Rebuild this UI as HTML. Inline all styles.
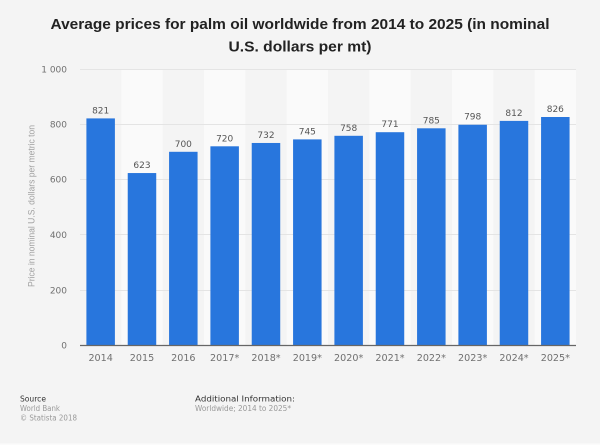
<!DOCTYPE html>
<html>
<head>
<meta charset="utf-8">
<style>
html,body{margin:0;padding:0;background:#f4f4f4;}
svg{display:block;font-family:"Liberation Sans","DejaVu Sans",sans-serif;}
.dv{font-family:"DejaVu Sans","Liberation Sans",sans-serif;}
</style>
</head>
<body>
<svg width="600" height="445" viewBox="0 0 600 445" xmlns="http://www.w3.org/2000/svg">
<rect x="0" y="0" width="600" height="445" fill="#f4f4f4"/>
<rect x="0" y="443.5" width="600" height="1.5" fill="#fbfbfb"/>
<!-- Title -->
<text x="300" y="29" text-anchor="middle" font-size="15" font-weight="bold" fill="#222" textLength="499" lengthAdjust="spacingAndGlyphs">Average prices for palm oil worldwide from 2014 to 2025 (in nominal</text>
<text x="300" y="51.5" text-anchor="middle" font-size="15" font-weight="bold" fill="#222" textLength="143" lengthAdjust="spacingAndGlyphs">U.S. dollars per mt)</text>
<!-- alternating bands -->
<g fill="#fafafa">
<rect x="121.33" y="69" width="41.33" height="276"/>
<rect x="204.00" y="69" width="41.33" height="276"/>
<rect x="286.67" y="69" width="41.33" height="276"/>
<rect x="369.33" y="69" width="41.33" height="276"/>
<rect x="452.00" y="69" width="41.33" height="276"/>
<rect x="534.67" y="69" width="41.33" height="276"/>
</g>
<!-- gridlines -->
<g stroke="#e4e4e4" stroke-width="1">
<line x1="80" y1="69.5" x2="576" y2="69.5"/>
<line x1="80" y1="124.5" x2="576" y2="124.5"/>
<line x1="80" y1="179.5" x2="576" y2="179.5"/>
<line x1="80" y1="234.5" x2="576" y2="234.5"/>
<line x1="80" y1="290.5" x2="576" y2="290.5"/>
</g>
<!-- y tick labels -->
<g class="dv" font-size="9" fill="#707070" text-anchor="end">
<text x="67" y="72.5">1 000</text>
<text x="67" y="127.5">800</text>
<text x="67" y="182.5">600</text>
<text x="67" y="238">400</text>
<text x="67" y="293.5">200</text>
<text x="67" y="348.5">0</text>
</g>
<!-- y title -->
<text transform="translate(34.5,206) rotate(-90)" text-anchor="middle" font-size="9" fill="#a0a0a0" textLength="162" lengthAdjust="spacingAndGlyphs">Price in nominal U.S. dollars per metric ton</text>
<!-- bars -->
<g fill="#2876dd">
<rect x="86.4" y="118.4" width="28.5" height="226.6"/>
<rect x="127.73" y="173.05" width="28.5" height="171.95"/>
<rect x="169.07" y="151.8" width="28.5" height="193.2"/>
<rect x="210.4" y="146.3" width="28.5" height="198.7"/>
<rect x="251.73" y="142.97" width="28.5" height="202.03"/>
<rect x="293.07" y="139.4" width="28.5" height="205.6"/>
<rect x="334.4" y="135.8" width="28.5" height="209.2"/>
<rect x="375.73" y="132.2" width="28.5" height="212.8"/>
<rect x="417.07" y="128.3" width="28.5" height="216.7"/>
<rect x="458.4" y="124.75" width="28.5" height="220.25"/>
<rect x="499.73" y="120.9" width="28.5" height="224.1"/>
<rect x="541.07" y="117.0" width="28.5" height="228.0"/>
</g>
<!-- axis -->
<line x1="80" y1="345.5" x2="576" y2="345.5" stroke="#666" stroke-width="1.2"/>
<!-- value labels -->
<g class="dv" font-size="9" fill="#555" text-anchor="middle">
<text x="100.67" y="113.5">821</text>
<text x="142.0" y="168">623</text>
<text x="183.33" y="146.8">700</text>
<text x="224.67" y="141.3">720</text>
<text x="266.0" y="138">732</text>
<text x="307.33" y="134.4">745</text>
<text x="348.67" y="130.8">758</text>
<text x="390.0" y="127.2">771</text>
<text x="431.33" y="123.3">785</text>
<text x="472.67" y="119.7">798</text>
<text x="514.0" y="115.9">812</text>
<text x="555.33" y="112">826</text>
</g>
<!-- x labels -->
<g class="dv" font-size="9.6" fill="#707070" text-anchor="middle">
<text x="100.67" y="361">2014</text>
<text x="142.0" y="361">2015</text>
<text x="183.33" y="361">2016</text>
<text x="224.67" y="361">2017*</text>
<text x="266.0" y="361">2018*</text>
<text x="307.33" y="361">2019*</text>
<text x="348.67" y="361">2020*</text>
<text x="390.0" y="361">2021*</text>
<text x="431.33" y="361">2022*</text>
<text x="472.67" y="361">2023*</text>
<text x="514.0" y="361">2024*</text>
<text x="555.33" y="361">2025*</text>
</g>
<!-- footer -->
<g class="dv">
<text x="20" y="401.5" font-size="8" fill="#333" textLength="26" lengthAdjust="spacingAndGlyphs">Source</text>
<text x="20" y="411" font-size="7.5" fill="#999" textLength="40" lengthAdjust="spacingAndGlyphs">World Bank</text>
<text x="20" y="420.5" font-size="7.5" fill="#999" textLength="57" lengthAdjust="spacingAndGlyphs">© Statista 2018</text>
<text x="195" y="401.5" font-size="8" fill="#333" textLength="100" lengthAdjust="spacingAndGlyphs">Additional Information:</text>
<text x="195" y="411" font-size="7.5" fill="#999" textLength="96" lengthAdjust="spacingAndGlyphs">Worldwide; 2014 to 2025*</text>
</g>
</svg>
</body>
</html>
